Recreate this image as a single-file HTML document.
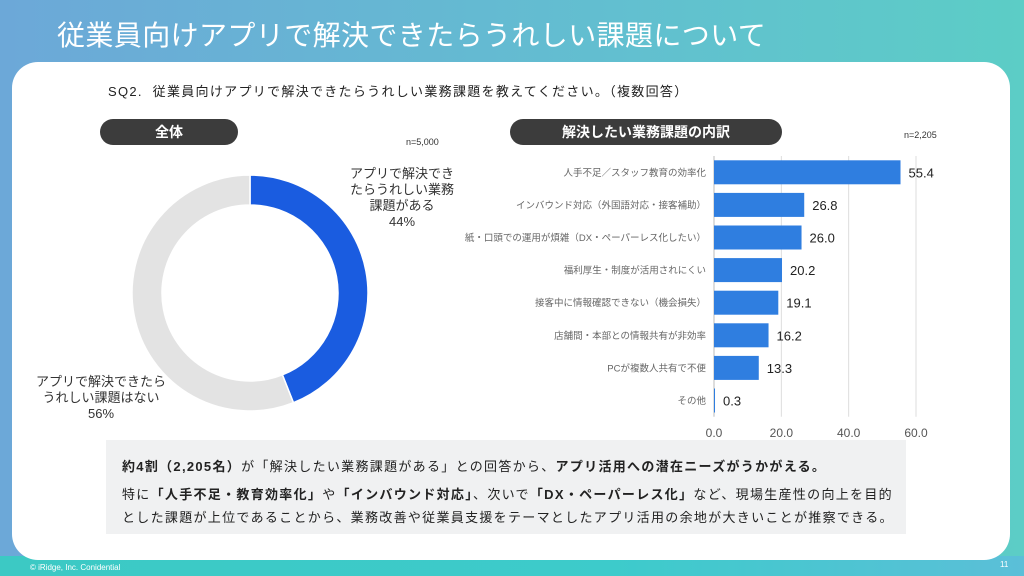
<!DOCTYPE html>
<html><head><meta charset="utf-8">
<style>
*{margin:0;padding:0;box-sizing:border-box}
body{width:1024px;height:576px;overflow:hidden;position:relative;font-family:"Liberation Sans","Noto Sans CJK JP",sans-serif;background:linear-gradient(90deg,#6ca8d8 0%,#62bfd0 60%,#5ccdc6 100%)}
.t{position:absolute;white-space:nowrap}
#footband{position:absolute;left:0;top:556px;width:1024px;height:20px;background:linear-gradient(90deg,#3cc9c4 0%,#3dcbcb 60%,#5bbfd8 100%)}
#card{position:absolute;left:12px;top:62px;width:998px;height:498px;background:#fff;border-radius:26px}
.pill{position:absolute;background:#3c3c3c;color:#fff;border-radius:13px;height:26px;font-size:14px;line-height:26px;text-align:center;font-weight:bold}
#note{position:absolute;left:106px;top:440px;width:800px;height:94px;background:#f0f1f2;font-size:13px;color:#222;letter-spacing:1.3px}
#note p{position:absolute;left:16px;white-space:nowrap}
</style></head><body>
<div id="footband"></div>
<div class="t" style="left:57px;top:14px;font-size:28px;color:#fff;letter-spacing:0.4px;">従業員向けアプリで解決できたらうれしい課題について</div>
<div id="card"></div>
<div class="t" style="left:108px;top:81px;font-size:13px;color:#222;letter-spacing:1.3px;">SQ2.&nbsp; 従業員向けアプリで解決できたらうれしい業務課題を教えてください。（複数回答）</div>
<div class="pill" style="left:100px;top:119px;width:138px;">全体</div>
<div class="pill" style="left:510px;top:119px;width:272px;">解決したい業務課題の内訳</div>
<div class="t" style="left:406px;top:137px;font-size:9px;color:#333;">n=5,000</div>
<div class="t" style="left:904px;top:130px;font-size:9px;color:#333;">n=2,205</div>

<svg id="donut" style="position:absolute;left:0;top:0" width="500" height="440"></svg>
<div class="t" style="left:350px;top:166px;font-size:13px;color:#333;text-align:center;line-height:16px;">アプリで解決でき<br>たらうれしい業務<br>課題がある<br>44%</div>
<div class="t" style="left:36px;top:374px;font-size:13px;color:#333;text-align:center;line-height:16px;">アプリで解決できたら<br>うれしい課題はない<br>56%</div>

<svg id="bars" style="position:absolute;left:0;top:0" width="1024" height="450"></svg>

<div id="note">
<p style="top:16px;font-weight:bold">約4割（2,205名）<span style="font-weight:normal">が「解決したい業務課題がある」との回答から、</span>アプリ活用への潜在ニーズがうかがえる。</p>
<p style="top:44px">特に<b>「人手不足・教育効率化」</b>や<b>「インバウンド対応」</b>、次いで<b>「DX・ペーパーレス化」</b>など、現場生産性の向上を目的</p>
<p style="top:67px">とした課題が上位であることから、業務改善や従業員支援をテーマとしたアプリ活用の余地が大きいことが推察できる。</p>
</div>
<div class="t" style="left:30px;top:563px;font-size:8px;color:#fff;">© iRidge, Inc. Conidential</div>
<div class="t" style="left:1000px;top:560px;font-size:8px;color:#fff;">11</div>

<script>
const donutLabels=["ある","ない"];
const donutValues=[44,56];
const donutColors=["#1a5ce0","#e3e3e3"];
const categories=["人手不足／スタッフ教育の効率化","インバウンド対応（外国語対応・接客補助）","紙・口頭での運用が煩雑（DX・ペーパーレス化したい）","福利厚生・制度が活用されにくい","接客中に情報確認できない（機会損失）","店舗間・本部との情報共有が非効率","PCが複数人共有で不便","その他"];
const values=[55.4,26.8,26.0,20.2,19.1,16.2,13.3,0.3];
const ticks=[0,20,40,60];
const NS="http://www.w3.org/2000/svg";
function mk(svg,tag,attrs){const e=document.createElementNS(NS,tag);for(const k in attrs)e.setAttribute(k,attrs[k]);svg.appendChild(e);return e;}
(function(){
const svg=document.getElementById('donut');const cx=250,cy=293,R=118,r=88;
const total=donutValues.reduce((a,b)=>a+b,0);let a0=-Math.PI/2;
donutValues.forEach((v,i)=>{const a1=a0+v/total*2*Math.PI;const lg=(a1-a0)>Math.PI?1:0;
const p=(rad,a)=>[cx+rad*Math.cos(a),cy+rad*Math.sin(a)];
const [x1,y1]=p(R,a0),[x2,y2]=p(R,a1),[x3,y3]=p(r,a1),[x4,y4]=p(r,a0);
const e=mk(svg,'path',{d:`M${x1},${y1}A${R},${R} 0 ${lg} 1 ${x2},${y2}L${x3},${y3}A${r},${r} 0 ${lg} 0 ${x4},${y4}Z`,fill:donutColors[i],stroke:'#fff','stroke-width':1.5});


a0=a1;});
})();
(function(){
const svg=document.getElementById('bars');
const x0=714,pxPer=(916-714)/60,yTop=156,step=32.6,bh=24;
const X=v=>x0+v*pxPer;
ticks.forEach(t=>{const l=mk(svg,'line',{x1:X(t),x2:X(t),y1:yTop,y2:yTop+step*categories.length,stroke:t===0?'#bbb':'#ddd','stroke-width':1});


const tx=mk(svg,'text',{x:X(t),y:437,'text-anchor':'middle','font-size':12,fill:'#555','font-family':'Liberation Sans'});tx.textContent=t.toFixed(1);

});
categories.forEach((c,i)=>{const yc=yTop+step*i+step/2;
const b=mk(svg,'rect',{x:x0,y:yc-bh/2,width:values[i]*pxPer,height:bh,fill:'#2f7ee0'});


const lab=mk(svg,'text',{x:706,y:yc+3.5,'text-anchor':'end','font-size':9.5,fill:'#666','font-family':'Liberation Sans, Noto Sans CJK JP, sans-serif'});lab.textContent=c;


const vl=mk(svg,'text',{x:X(values[i])+8,y:yc+5,'font-size':13,fill:'#222','font-family':'Liberation Sans'});vl.textContent=values[i].toFixed(1);

});
})();
</script>
</body></html>
